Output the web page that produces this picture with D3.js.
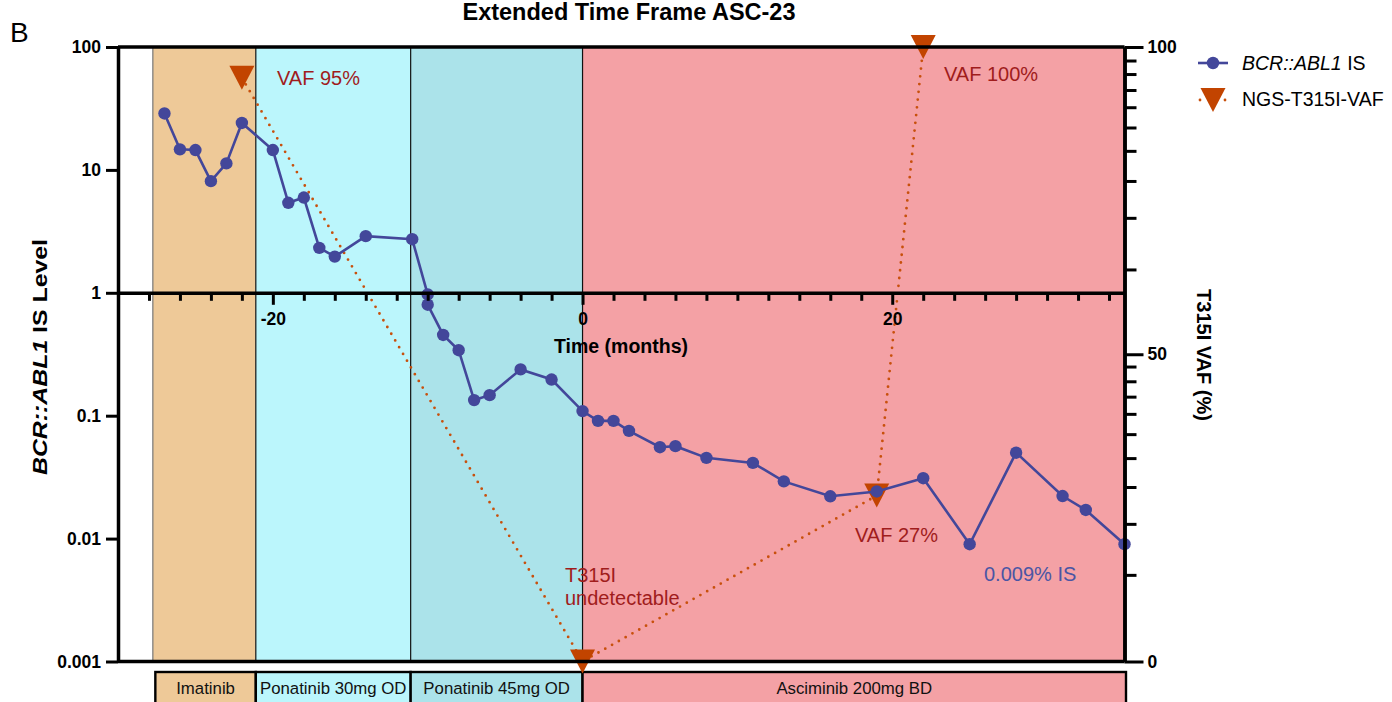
<!DOCTYPE html>
<html>
<head>
<meta charset="utf-8">
<script src="https://cdn.jsdelivr.net/npm/d3@7"></script>
<style>
  html, body { margin: 0; padding: 0; background: #fff; }
  svg { display: block; font-family: "Liberation Sans", Arial, Helvetica, sans-serif; }
</style>
</head>
<body>
<svg id="chart" width="1392" height="702"></svg>
<script>
// Molecular response (BCR::ABL1 IS, %) over time, months relative to asciminib start
const months = [-27, -26, -25, -24, -23, -22, -20, -19, -18, -17, -16, -14, -11, -10, -10, -9, -8, -7, -6, -4, -2,
  0, 1, 2, 3, 5, 6, 8, 11, 13, 16, 19, 22, 25, 28, 31, 32.5, 35];
const isLevels = [28.8, 14.7, 14.5, 8.1, 11.3, 24.1, 14.5, 5.4, 5.96, 2.32, 1.97, 2.89, 2.73, 0.97, 0.80, 0.454, 0.341,
  0.134, 0.147, 0.238, 0.197, 0.109, 0.0907, 0.0907, 0.0752, 0.0554, 0.0565, 0.0454, 0.0413, 0.0292, 0.0221, 0.0242,
  0.031, 0.009, 0.05, 0.0222, 0.0171, 0.009];

// NGS T315I variant allele frequency (%)
const vafMonths = [-22, 0, 19, 22];
const vafValues = [95, 0, 27, 100];

// Treatment phases
const treatments = ["Imatinib", "Ponatinib 30mg OD", "Ponatinib 45mg OD", "Asciminib 200mg BD"];
const treatmentStart = [-27.75, -21.1, -11.1, 0];
const treatmentEnd = [-21.1, -11.1, 0, 35];
const treatmentColors = ["#eec998", "#bbf6fc", "#abe3ea", "#f4a1a5"];

// Axis ticks
const leftTicks = [0.001, 0.01, 0.1, 1, 10, 100];
const leftTickLabels = ["0.001", "0.01", "0.1", "1", "10", "100"];
const xTicks = d3.range(-28, 35, 2);
const xLabelled = [-20, 0, 20];
const rightMajorTicks = [0, 50, 100];
const rightMinorTicks = [14.1, 22.4, 28.4, 33.1, 37.0, 40.3, 43.1, 45.6, 48.0,
  63.8, 72.2, 78.2, 83.1, 86.9, 90.2, 93.0, 95.6, 97.8];

const BLUE = "#43479a";
const ORANGE = "#c24400";
const RED_TEXT = "#a01c1c";

const svg = d3.select("#chart");

const x = d3.scaleLinear().domain([-30, 35]).range([118, 1124.5]);
const y = d3.scaleLog().domain([0.001, 100]).range([661.5, 47]);
const y2 = d3.scaleLinear().domain([0, 100]).range([661.5, 47]);

const plotTop = y(100), plotBottom = y(0.001);

// Title and panel letter
svg.append("text").attr("x", 629).attr("y", 19.5).attr("text-anchor", "middle")
  .attr("font-size", 23.5).attr("font-weight", "bold").text("Extended Time Frame ASC-23");
svg.append("text").attr("x", 10).attr("y", 42).attr("font-size", 28).text("B");

// Treatment background bands
const bands = svg.append("g");
treatments.forEach((t, i) => {
  bands.append("rect")
    .attr("x", x(treatmentStart[i])).attr("y", plotTop)
    .attr("width", x(treatmentEnd[i]) - x(treatmentStart[i]))
    .attr("height", plotBottom - plotTop)
    .attr("fill", treatmentColors[i]);
  bands.append("line")
    .attr("x1", x(treatmentStart[i])).attr("x2", x(treatmentStart[i]))
    .attr("y1", plotTop).attr("y2", plotBottom)
    .attr("stroke", i === 0 ? "#777" : "#111").attr("stroke-width", 1.2);
});

// Treatment boxes below the plot
const boxes = svg.append("g");
treatments.forEach((t, i) => {
  const x0 = x(treatmentStart[i]) + (i === 0 ? 2.5 : 0);
  const x1 = x(treatmentEnd[i]) + (i === treatments.length - 1 ? 1.5 : 0);
  boxes.append("rect")
    .attr("x", x0).attr("y", 672).attr("width", x1 - x0).attr("height", 40)
    .attr("fill", treatmentColors[i]).attr("stroke", "#000").attr("stroke-width", 2.4);
  boxes.append("text")
    .attr("x", (x0 + x1) / 2).attr("y", 694).attr("text-anchor", "middle")
    .attr("font-size", 16.8).attr("fill", "#111").text(t);
});

// VAF dotted series with triangle markers
const vafData = vafMonths.map((m, i) => ({ m, v: vafValues[i] }));
svg.append("path")
  .datum(vafData)
  .attr("d", d3.line().x(d => x(d.m)).y(d => y2(d.v)))
  .attr("fill", "none").attr("stroke", "#c8500c").attr("stroke-width", 2.8)
  .attr("stroke-linecap", "round").attr("stroke-dasharray", "0 7.8");

const tri = (cx, cy) => `M${cx - 12.5},${cy - 12}L${cx + 12.5},${cy - 12}L${cx},${cy + 12}Z`;
svg.append("g").selectAll("path").data(vafData).join("path")
  .attr("d", d => tri(x(d.m), y2(d.v)))
  .attr("fill", ORANGE);

// BCR::ABL1 IS series
const isData = months.map((m, i) => ({ m, v: isLevels[i] }));
svg.append("path")
  .datum(isData)
  .attr("d", d3.line().x(d => x(d.m)).y(d => y(d.v)))
  .attr("fill", "none").attr("stroke", BLUE).attr("stroke-width", 2.6);
svg.append("g").selectAll("circle").data(isData).join("circle")
  .attr("cx", d => x(d.m)).attr("cy", d => y(d.v)).attr("r", 6.2)
  .attr("fill", BLUE);

// Frame: top and bottom borders
svg.append("line").attr("x1", x(-30)).attr("x2", x(35)).attr("y1", plotTop).attr("y2", plotTop)
  .attr("stroke", "#000").attr("stroke-width", 3.5);
svg.append("line").attr("x1", x(-30)).attr("x2", x(35)).attr("y1", plotBottom).attr("y2", plotBottom)
  .attr("stroke", "#000").attr("stroke-width", 3.5);

function styleAxis(g, width) {
  g.select(".domain").attr("stroke", "#000").attr("stroke-width", width);
  g.selectAll(".tick line").attr("stroke", "#000").attr("stroke-width", 3);
  g.selectAll(".tick text").attr("fill", "#000").attr("font-size", 17.5)
    .attr("font-weight", "bold").attr("font-family", "'Liberation Sans', Arial, sans-serif");
}

// Left log axis
const leftAxis = svg.append("g").attr("transform", `translate(${x(-30)},0)`)
  .call(d3.axisLeft(y).tickValues(leftTicks).tickSize(12).tickSizeOuter(0).tickPadding(5)
    .tickFormat((d, i) => leftTickLabels[i]));
styleAxis(leftAxis, 3.5);

// Right linear axis (VAF %)
const rightMinor = svg.append("g").attr("transform", `translate(${x(35)},0)`)
  .call(d3.axisRight(y2).tickValues(rightMinorTicks).tickSize(12).tickSizeOuter(0).tickFormat(""));
styleAxis(rightMinor, 3.5);
const rightAxis = svg.append("g").attr("transform", `translate(${x(35)},0)`)
  .call(d3.axisRight(y2).tickValues(rightMajorTicks).tickSize(19).tickSizeOuter(0).tickPadding(4)
    .tickFormat(d3.format("d")));
styleAxis(rightAxis, 3.5);

// Time axis crossing at IS = 1
const xAxis = svg.append("g").attr("transform", `translate(0,${y(1)})`)
  .call(d3.axisBottom(x).tickValues(xTicks).tickSize(8).tickSizeOuter(0).tickPadding(8)
    .tickFormat(d => xLabelled.includes(d) ? String(d) : ""));
styleAxis(xAxis, 3.5);
xAxis.selectAll(".tick").filter(d => xLabelled.includes(d)).select("line").attr("y2", 12);
xAxis.selectAll(".tick text").attr("dy", "0.71em").attr("y", 20);

// Axis titles
svg.append("text").attr("x", 621).attr("y", 353).attr("text-anchor", "middle")
  .attr("font-size", 19.5).attr("font-weight", "bold").text("Time (months)");

const yTitle = svg.append("text")
  .attr("transform", "translate(47,357) rotate(-90)")
  .attr("text-anchor", "middle").attr("font-size", 20).attr("font-weight", "bold")
  .attr("textLength", 236).attr("lengthAdjust", "spacingAndGlyphs");
yTitle.append("tspan").attr("font-style", "italic").text("BCR::ABL1");
yTitle.append("tspan").text(" IS Level");

svg.append("text")
  .attr("transform", "translate(1197,355) rotate(90)")
  .attr("text-anchor", "middle").attr("font-size", 20).attr("font-weight", "bold")
  .text("T315I VAF (%)");

// Annotations
const ann = svg.append("g").attr("font-size", 20).attr("fill", RED_TEXT);
ann.append("text").attr("x", 277).attr("y", 85).text(`VAF ${vafValues[0]}%`);
ann.append("text").attr("x", 944).attr("y", 81).text(`VAF ${vafValues[3]}%`);
ann.append("text").attr("x", 855).attr("y", 542).text(`VAF ${vafValues[2]}%`);
ann.append("text").attr("x", 565).attr("y", 582).text("T315I");
ann.append("text").attr("x", 565).attr("y", 605).text("undetectable");
svg.append("text").attr("x", 984).attr("y", 581).attr("font-size", 20).attr("fill", "#4a55a4")
  .text(`${isLevels[isLevels.length - 1]}% IS`);

// Legend
const lg = svg.append("g");
lg.append("line").attr("x1", 1198).attr("x2", 1228).attr("y1", 63).attr("y2", 63)
  .attr("stroke", BLUE).attr("stroke-width", 2.6);
lg.append("circle").attr("cx", 1213).attr("cy", 63).attr("r", 6.2).attr("fill", BLUE);
const lt = lg.append("text").attr("x", 1242).attr("y", 63).attr("dy", "0.35em").attr("font-size", 19.5);
lt.append("tspan").attr("font-style", "italic").text("BCR::ABL1");
lt.append("tspan").text(" IS");

lg.append("circle").attr("cx", 1200).attr("cy", 100).attr("r", 1.4).attr("fill", "#c8500c");
lg.append("circle").attr("cx", 1225).attr("cy", 100).attr("r", 1.4).attr("fill", "#c8500c");
lg.append("path").attr("d", tri(1213, 100)).attr("fill", ORANGE);
lg.append("text").attr("x", 1242).attr("y", 99).attr("dy", "0.35em").attr("font-size", 19.5)
  .text("NGS-T315I-VAF");
</script>
</body>
</html>
